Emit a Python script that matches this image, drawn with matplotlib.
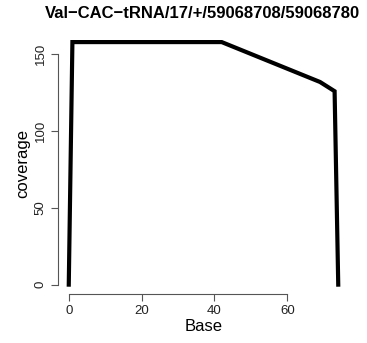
import matplotlib
matplotlib.use('Agg')
import matplotlib.pyplot as plt

# coverage profile
base = [0, 1, 42, 69, 73, 74]
coverage = [0, 158, 158, 132, 126, 0]
xticks = [0, 20, 40, 60]
yticks = [0, 50, 100, 150]

plt.rcParams['font.family'] = ['Liberation Sans', 'DejaVu Sans']

fig = plt.figure(figsize=(3.67, 3.43), dpi=100)
ax = fig.add_axes([0.158, 0.142, 0.793, 0.7635])

ax.plot(base, coverage, color='black', linewidth=3, solid_joinstyle='miter')
ax.set_xlim(-2.96, 76.96)
ax.set_ylim(-6.3, 164.3)

# R-like axes: only left and bottom, spanning the ticks
for side in ['top', 'right']:
    ax.spines[side].set_visible(False)
ax.spines['left'].set_bounds(0, 150)
ax.spines['bottom'].set_bounds(0, 60)
for side in ['left', 'bottom']:
    ax.spines[side].set_color('#555555')
    ax.spines[side].set_linewidth(0.8)

ax.set_xticks(xticks)
ax.set_yticks(yticks)
ax.tick_params(colors='#555555', length=5, width=0.8, labelsize=9.5, labelcolor='#222222', pad=3)
ax.tick_params(axis='y', labelrotation=90)
for lab in ax.get_yticklabels():
    lab.set_va('center')

ax.set_xlabel('Base', fontsize=12, labelpad=1)
ax.set_ylabel('coverage', fontsize=12, labelpad=3)
# title centred over the plot region, like R
fig.text(0.553, 0.962, 'Val\u2212CAC\u2212tRNA/17/+/59068708/59068780',
         fontsize=12, fontweight='bold', ha='center', va='center')

fig.savefig('out.png', dpi=100)
